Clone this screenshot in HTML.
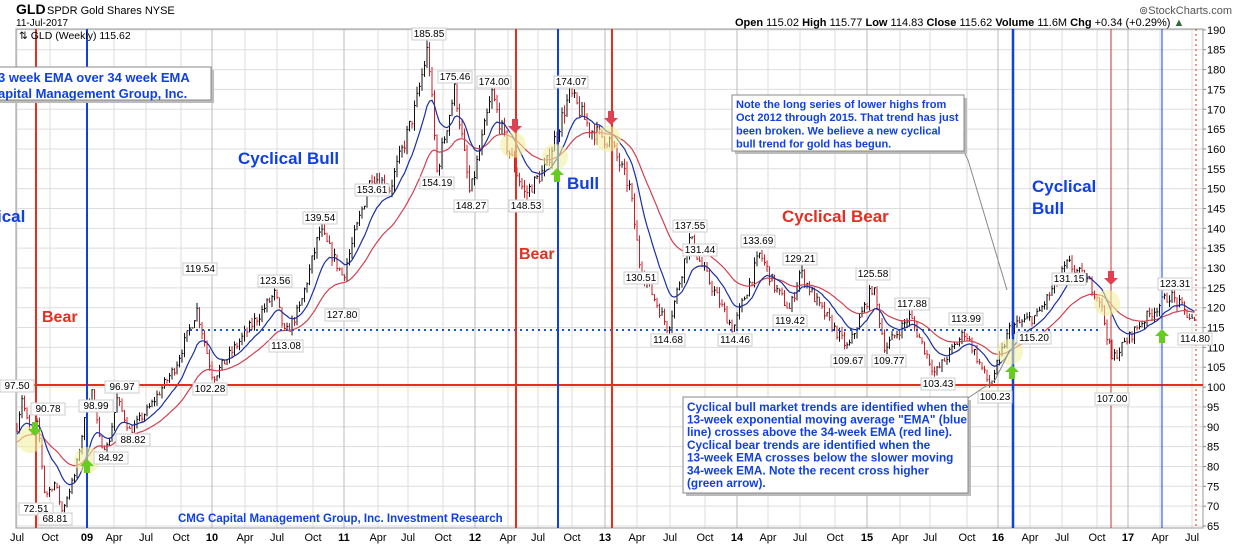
<!DOCTYPE html>
<html><head><meta charset="utf-8"><style>
body{margin:0;background:#fff;width:1240px;height:546px;overflow:hidden;font-family:"Liberation Sans",sans-serif}
svg{display:block}
</style></head><body>
<svg id="s" width="1240" height="546" xmlns="http://www.w3.org/2000/svg" font-family="Liberation Sans, sans-serif"></svg>
<script>
const S=document.getElementById('s');let h='';
const Y=p=>526-(p-65)*3.969;
const xl=[[17,'Jul'],[50,'Oct'],[87,'09'],[114,'Apr'],[146,'Jul'],[181,'Oct'],[212,'10'],[245,'Apr'],[277,'Jul'],[313,'Oct'],[344,'11'],[378,'Apr'],[408,'Jul'],[443,'Oct'],[475,'12'],[508,'Apr'],[538,'Jul'],[572,'Oct'],[605,'13'],[637,'Apr'],[670,'Jul'],[705,'Oct'],[737,'14'],[768,'Apr'],[800,'Jul'],[835,'Oct'],[867,'15'],[900,'Apr'],[930,'Jul'],[967,'Oct'],[998,'16'],[1030,'Apr'],[1062,'Jul'],[1097,'Oct'],[1128,'17'],[1160,'Apr'],[1192,'Jul']];
for(let p=65;p<=190;p+=5){h+=`<line x1="16" x2="1203" y1="${Y(p)}" y2="${Y(p)}" stroke="#ddd"/><text x="1207" y="${Y(p)+4}" font-size="11">${p}</text><line x1="1203" x2="1206" y1="${Y(p)}" y2="${Y(p)}" stroke="#888"/>`;}
xl.forEach(([x,t])=>{const yr=/^\d/.test(t);h+=`<line x1="${x}" x2="${x}" y1="29" y2="528" stroke="${yr?'#bbb':'#ddd'}"/><text x="${x}" y="541" font-size="11" text-anchor="middle" ${yr?'font-weight="bold"':''}>${t}</text>`;});
h+=`<rect x="16" y="29" width="1187" height="499" fill="none" stroke="#999"/>`;
const K=[[17,90],[22,97.5],[30,88],[38,90.78],[45,72.51],[55,76],[62,68.81],[75,78],[87,95],[92,98.99],[100,86],[108,84.92],[117,96.97],[130,88.82],[150,95],[175,105],[197,119.54],[213,102.28],[235,110],[275,123.56],[285,113.08],[300,120],[320,139.54],[343,127.8],[372,153.61],[390,150],[415,170],[428,185.85],[437,154.19],[455,175.46],[470,148.27],[492,174],[505,162],[525,148.53],[545,155],[570,174.07],[590,165],[610,162],[630,150],[640,130.51],[668,114.68],[690,137.55],[700,131.44],[733,114.46],[760,133.69],[775,125],[790,119.42],[800,129.21],[820,120],[848,109.67],[873,125.58],[885,109.77],[910,117.88],[935,103.43],[965,113.99],[990,100.23],[1010,115],[1037,118],[1068,131.15],[1090,126],[1100,122],[1112,107],[1140,116],[1170,123.31],[1185,119],[1196,115.6]];
function base(x){for(let i=0;i<K.length-1;i++){if(x>=K[i][0]&&x<=K[i+1][0]){const t=(x-K[i][0])/(K[i+1][0]-K[i][0]);return K[i][1]+(K[i+1][1]-K[i][1])*t;}}return K[K.length-1][1];}
let seed=7;const r=()=>{seed=(seed*16807)%2147483647;return seed/2147483647;};
let prev=90,e13=88,e34=86;const a13=2/14,a34=2/35;let p13='',p34='';
for(let x=17;x<=1196;x+=2.5){const b=base(x);const c=b+(r()-.5)*b*0.025;const o=prev;const hi=Math.max(o,c)+r()*b*0.012,lo=Math.min(o,c)-r()*b*0.012;
const col=c<prev?'#c8202a':'#111';
h+=`<line x1="${x}" x2="${x}" y1="${Y(hi)}" y2="${Y(lo)}" stroke="${col}"/><line x1="${x}" x2="${x+1.5}" y1="${Y(c)}" y2="${Y(c)}" stroke="${col}"/>`;
prev=c;e13=e13+a13*(c-e13);e34=e34+a34*(c-e34);p13+=`${x},${Y(e13).toFixed(1)} `;p34+=`${x},${Y(e34).toFixed(1)} `;}
h+=`<polyline points="${p34}" fill="none" stroke="#d04050" stroke-width="1.2"/><polyline points="${p13}" fill="none" stroke="#1a2fa0" stroke-width="1.2"/>`;
h+=`<line x1="0" x2="1203" y1="385" y2="385" stroke="#e03020" stroke-width="2"/>`;
h+=`<line x1="190" x2="1100" y1="330" y2="330" stroke="#1a50e0" stroke-width="2" stroke-dasharray="2,4"/>`;
[[36,'#e03020',2],[87,'#1040e0',2],[516,'#e03020',2],[558,'#1040e0',2],[612,'#e03020',2],[1013,'#1040e0',2.5],[1111,'#c83030',1],[1162,'#1040e0',1]].forEach(([x,c,w])=>h+=`<line x1="${x}" x2="${x}" y1="29" y2="528" stroke="${c}" stroke-width="${w}"/>`);
h+=`<line x1="1196" x2="1196" y1="29" y2="528" stroke="#e03020" stroke-dasharray="2,3"/>`;
[[30,440],[87,460],[513,145],[555,157],[608,139],[1010,352],[1107,303]].forEach(([x,y])=>h+=`<circle cx="${x}" cy="${y}" r="13" fill="#f0f0a0" opacity="0.6"/>`);
const ga=(x,y,up,c)=>{const d=up?-1:1;h+=`<path d="M${x-3},${y-7*d} h6 v${7*d} h4 l-7,${7*d} l-7,${-7*d} h4 z" fill="${c}"/>`;};
ga(35,429,false,'#66cc22');ga(87,466,true,'#66cc22');ga(557,175,true,'#66cc22');ga(1012,372,true,'#66cc22');ga(1162,336,true,'#66cc22');
ga(515,126,false,'#e04050');ga(611,118,false,'#e04050');ga(1111,278,false,'#e04050');
const L=[[17,389,'97.50'],[48,412,'90.78'],[36,512,'72.51'],[55,522,'68.81'],[96,409,'98.99'],[111,461,'84.92'],[122,390,'96.97'],[133,443,'88.82'],[200,272,'119.54'],[210,392,'102.28'],[275,284,'123.56'],[286,349,'113.08'],[320,221,'139.54'],[342,318,'127.80'],[372,193,'153.61'],[429,37,'185.85'],[437,186,'154.19'],[455,80,'175.46'],[471,209,'148.27'],[494,85,'174.00'],[526,209,'148.53'],[571,85,'174.07'],[641,281,'130.51'],[690,229,'137.55'],[700,253,'131.44'],[668,343,'114.68'],[735,343,'114.46'],[758,244,'133.69'],[790,324,'119.42'],[800,262,'129.21'],[848,364,'109.67'],[873,277,'125.58'],[889,364,'109.77'],[912,307,'117.88'],[938,387,'103.43'],[966,322,'113.99'],[995,400,'100.23'],[1069,282,'131.15'],[1034,341,'115.20'],[1112,402,'107.00'],[1175,287,'123.31'],[1195,342,'114.80']];
L.forEach(([x,y,t])=>h+=`<rect x="${x-17}" y="${y-9}" width="34" height="12" fill="#fff" stroke="#ccc"/><text x="${x}" y="${y}" font-size="10" text-anchor="middle">${t}</text>`);
h+=`<text x="16" y="14" font-size="14" font-weight="bold">GLD</text><text x="47" y="14" font-size="11">SPDR Gold Shares NYSE</text><text x="16" y="26" font-size="10">11-Jul-2017</text><text x="19" y="39" font-size="10.5">⇅ GLD (Weekly) 115.62</text>`;
h+=`<text x="1232" y="14" font-size="11" fill="#555" text-anchor="end">⊚StockCharts.com</text>`;
h+=`<text x="735" y="26" font-size="11"><tspan font-weight="bold">Open</tspan> 115.02 <tspan font-weight="bold">High</tspan> 115.77 <tspan font-weight="bold">Low</tspan> 114.83 <tspan font-weight="bold">Close</tspan> 115.62 <tspan font-weight="bold">Volume</tspan> 11.6M <tspan font-weight="bold">Chg</tspan> +0.34 (+0.29%) <tspan fill="#363">▲</tspan></text>`;
const B=(x,y,t,c,s)=>h+=`<text x="${x}" y="${y}" font-size="${s||17}" font-weight="bold" fill="${c}">${t}</text>`;
B(238,164,'Cyclical Bull','#1040e0');B(567,189,'Bull','#1040e0');B(782,222,'Cyclical Bear','#e03020');B(1032,192,'Cyclical','#1040e0');B(1032,214,'Bull','#1040e0');B(-3,222,'ical','#1040e0');B(42,322,'Bear','#e03020',16);B(519,259,'Bear','#e03020',16);
h+=`<text x="178" y="522" font-size="11.5" font-weight="bold" fill="#1040e0">CMG Capital Management Group, Inc. Investment Research</text>`;
const box=(x,y,w,hh,lines,fs,lh)=>{h+=`<rect x="${x+3}" y="${y+3}" width="${w}" height="${hh}" fill="#bbb"/><rect x="${x}" y="${y}" width="${w}" height="${hh}" fill="#fff" stroke="#888"/>`;lines.forEach((t,i)=>h+=`<text x="${x+4}" y="${y+fs+2+i*lh}" font-size="${fs}" font-weight="bold" fill="#1040e0">${t}</text>`);};
box(-6,67,217,33,['3 week EMA over 34 week EMA','apital Management Group, Inc.'],13,16);
h+=`<polyline points="963,150 968,160 1007,290" fill="none" stroke="#888"/>`;
box(732,95,232,56,['Note the long series of lower highs from','Oct 2012 through 2015.  That trend has just','been broken.  We believe a new cyclical','bull trend for gold has begun.'],11,13.2);
h+=`<polyline points="965,400 995,380 1010,350" fill="none" stroke="#888"/>`;
box(683,397,285,96,['Cyclical bull market trends are identified when the','13-week exponential moving average "EMA" (blue','line) crosses above the 34-week EMA (red line).','Cyclical bear trends are identified when the','13-week EMA crosses below the slower moving','34-week EMA.  Note the recent cross higher','(green arrow).'],11.8,12.7);
S.innerHTML=h;
</script>
</body></html>
